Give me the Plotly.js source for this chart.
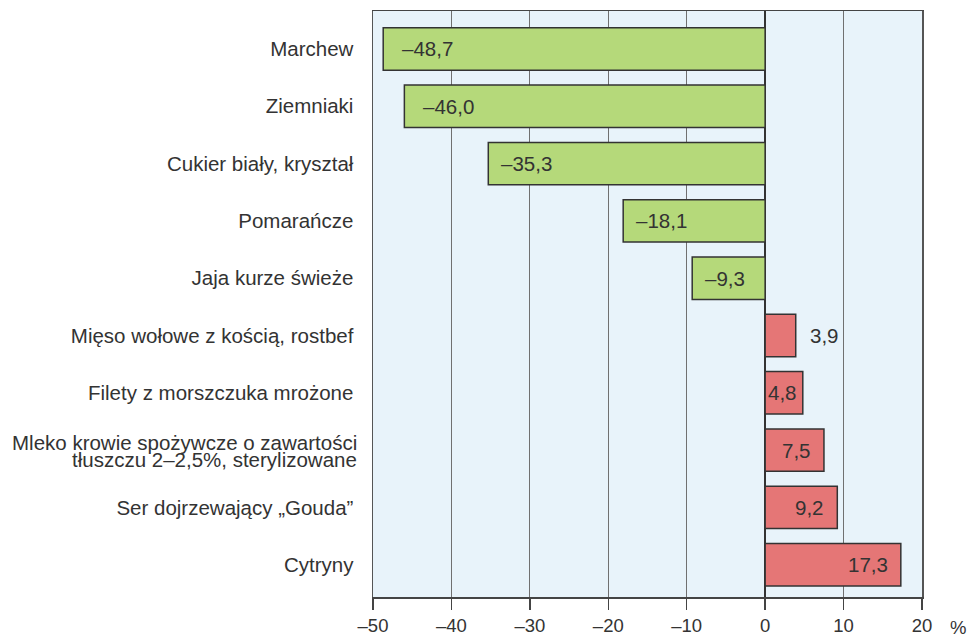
<!DOCTYPE html>
<html><head><meta charset="utf-8">
<script src="https://cdn.plot.ly/plotly-3.0.1.min.js"></script>
<style>html,body{margin:0;padding:0;background:#fff}#c{width:969px;height:635px}</style>
</head><body><div id="c"></div>
<script>
const categories = ["Marchew","Ziemniaki","Cukier biały, kryształ","Pomarańcze","Jaja kurze świeże","Mięso wołowe z kością, rostbef","Filety z morszczuka mrożone","Mleko krowie spożywcze o zawartości\ntłuszczu 2–2,5%, sterylizowane","Ser dojrzewający „Gouda”","Cytryny"];
const values = [-48.7,-46.0,-35.3,-18.1,-9.3,3.9,4.8,7.5,9.2,17.3];
const tickVals = [-50,-40,-30,-20,-10,0,10,20];
const tickText = ["–50","–40","–30","–20","–10","0","10","20"];

const fmt = v => (v<0?"–":"") + Math.abs(v).toFixed(1).replace(".", ",");
const colors = values.map(v => v<0 ? "#b5d97a" : "#e57676");
const catIds = categories.map((c,i) => "c" + i);
const catText = categories.map(c => c.includes("\n") ? "" : c);

const annotations = values.map((v,i) => {
  let anchor, shift;
  if (v < 0) { anchor = "left"; shift = v < -40 ? 17 : 11; }
  else if (v < 4.5) { anchor = "left"; shift = 12; }
  else { anchor = "right"; shift = v < 6 ? -4 : -11; }
  return {x: v, y: catIds[i], xref: "x", yref: "y", text: fmt(v), showarrow: false,
          xanchor: anchor, xshift: shift, font: {size: 20.5, color: "#333"}};
});
// multi-line category labels drawn with tight spacing
categories.forEach((c,i) => {
  if (!c.includes("\n")) return;
  const lines = c.split("\n");
  const step = 16.5;
  lines.forEach((ln,k) => {
    annotations.push({x: 0, y: catIds[i], xref: "paper", yref: "y", text: ln, showarrow: false,
      xanchor: "right", xshift: -14, yshift: (lines.length-1)/2*step - k*step - 1,
      font: {size: 20.5, color: "#333"}});
  });
});
annotations.push({x: 1, y: 0, xref: "paper", yref: "paper", text: "%", showarrow: false,
  xanchor: "center", yanchor: "top", xshift: 36, yshift: -18, font: {size: 18.5, color: "#333"}});

const trace = {type: "bar", orientation: "h", x: values, y: catIds,
  marker: {color: colors, line: {color: "#333", width: 1.5}}, hoverinfo: "none"};

const layout = {
  width: 969, height: 635,
  margin: {l: 373, r: 47, t: 11, b: 38},
  paper_bgcolor: "#fff", plot_bgcolor: "#e8f3fa",
  font: {family: "Liberation Sans, Arial, sans-serif", size: 18, color: "#333"},
  bargap: 0.26, showlegend: false,
  xaxis: {range: [-50, 20], tickvals: tickVals, ticktext: tickText, showgrid: true,
    gridcolor: "#707070", gridwidth: 1, zeroline: true, zerolinecolor: "#333", zerolinewidth: 2,
    showline: true, linecolor: "#444", linewidth: 1.5, mirror: true, ticks: "outside", ticklen: 11,
    tickcolor: "#444", tickwidth: 1.5, fixedrange: true, ticklabelstandoff: 0, tickfont: {size: 18.5}},
  yaxis: {range: [9.564, -0.663], tickvals: catIds, ticktext: catText, showline: true, linecolor: "#555",
    linewidth: 1.5, mirror: true, showgrid: false, ticks: "", ticklabelstandoff: 14,
    tickfont: {size: 20.5}, fixedrange: true},
  annotations: annotations
};
Plotly.newPlot("c", [trace], layout, {staticPlot: true});
</script></body></html>
